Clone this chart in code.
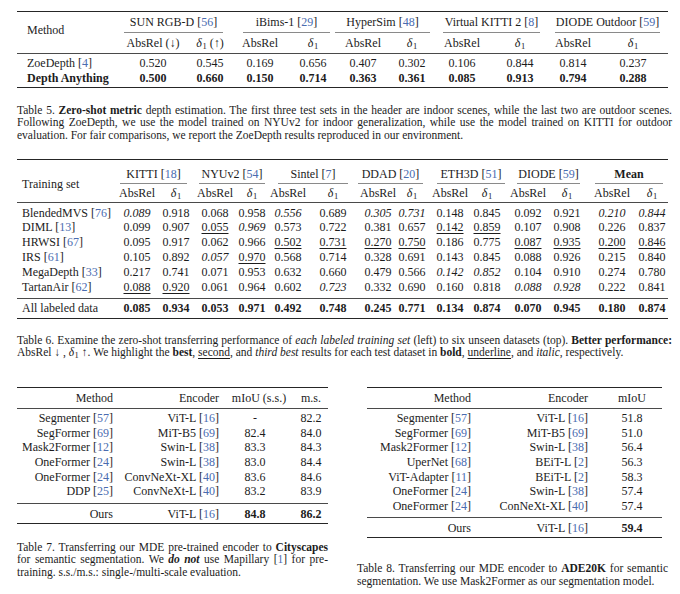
<!DOCTYPE html>
<html><head><meta charset="utf-8">
<script src="https://cdn.jsdelivr.net/npm/chart.js@4.4.1/dist/chart.umd.min.js"></script>
<style>
html,body{margin:0;padding:0;background:#fff;}
#page{position:relative;width:680px;height:594px;overflow:hidden;font-family:"Liberation Serif","Times New Roman",serif;color:#1c1c1c;}
.t{position:absolute;white-space:nowrap;font-size:12px;line-height:14px;}
.c{color:#4a6cb0;}
.rule{position:absolute;height:0;}
.cap{position:absolute;white-space:nowrap;font-size:11.5px;line-height:13px;}
.sub{font-size:8.5px;position:relative;top:2px;margin-left:0.5px;}
.u{text-decoration:underline;text-decoration-thickness:0.8px;text-underline-offset:2px;}
</style></head><body><div id="page"></div>
<script>
// ---------------- DATA ----------------
// Table 5
const t5Datasets = ["SUN RGB-D", "iBims-1", "HyperSim", "Virtual KITTI 2", "DIODE Outdoor"];
const t5DatasetRefs = [56, 29, 48, 8, 59];
const t5Methods = ["ZoeDepth", "Depth Anything"];
const t5MethodRefs = [4, null];
const t5ZoeDepth = [0.520, 0.545, 0.169, 0.656, 0.407, 0.302, 0.106, 0.844, 0.814, 0.237];
const t5DepthAnything = [0.500, 0.660, 0.150, 0.714, 0.363, 0.361, 0.085, 0.913, 0.794, 0.288];

// Table 6
const t6Datasets = ["KITTI", "NYUv2", "Sintel", "DDAD", "ETH3D", "DIODE", "Mean"];
const t6DatasetRefs = [18, 54, 7, 20, 51, 59, null];
const t6TrainSets = ["BlendedMVS", "DIML", "HRWSI", "IRS", "MegaDepth", "TartanAir", "All labeled data"];
const t6TrainRefs = [76, 13, 67, 61, 33, 62, null];
const t6BlendedMVS = [0.089, 0.918, 0.068, 0.958, 0.556, 0.689, 0.305, 0.731, 0.148, 0.845, 0.092, 0.921, 0.210, 0.844];
const t6DIML       = [0.099, 0.907, 0.055, 0.969, 0.573, 0.722, 0.381, 0.657, 0.142, 0.859, 0.107, 0.908, 0.226, 0.837];
const t6HRWSI      = [0.095, 0.917, 0.062, 0.966, 0.502, 0.731, 0.270, 0.750, 0.186, 0.775, 0.087, 0.935, 0.200, 0.846];
const t6IRS        = [0.105, 0.892, 0.057, 0.970, 0.568, 0.714, 0.328, 0.691, 0.143, 0.845, 0.088, 0.926, 0.215, 0.840];
const t6MegaDepth  = [0.217, 0.741, 0.071, 0.953, 0.632, 0.660, 0.479, 0.566, 0.142, 0.852, 0.104, 0.910, 0.274, 0.780];
const t6TartanAir  = [0.088, 0.920, 0.061, 0.964, 0.602, 0.723, 0.332, 0.690, 0.160, 0.818, 0.088, 0.928, 0.222, 0.841];
const t6AllData    = [0.085, 0.934, 0.053, 0.971, 0.492, 0.748, 0.245, 0.771, 0.134, 0.874, 0.070, 0.945, 0.180, 0.874];
// published rank marks: 1 = best, 2 = second, 3 = third best, 0 = none
const t6RankBlendedMVS = [3,0,0,0,3,0,3,3,0,0,0,0,3,3];
const t6RankDIML       = [0,0,2,3,0,0,0,0,2,2,0,0,0,0];
const t6RankHRWSI      = [0,0,0,0,2,2,2,2,0,0,2,2,2,2];
const t6RankIRS        = [0,0,3,2,0,0,0,0,0,0,0,0,0,0];
const t6RankMegaDepth  = [0,0,0,0,0,0,0,0,3,3,0,0,0,0];
const t6RankTartanAir  = [2,2,0,0,0,3,0,0,0,0,3,3,0,0];
const t6RankAllData    = [1,1,1,1,1,1,1,1,1,1,1,1,1,1];

// Table 7
const t7Methods = ["Segmenter", "SegFormer", "Mask2Former", "OneFormer", "OneFormer", "DDP", "Ours"];
const t7MethodRefs = [57, 69, 12, 24, 24, 25, null];
const t7Encoders = ["ViT-L", "MiT-B5", "Swin-L", "Swin-L", "ConvNeXt-XL", "ConvNeXt-L", "ViT-L"];
const t7EncoderRefs = [16, 69, 38, 38, 40, 40, 16];
const t7SingleScale = [null, 82.4, 83.3, 83.0, 83.6, 83.2, 84.8];
const t7MultiScale = [82.2, 84.0, 84.3, 84.4, 84.6, 83.9, 86.2];

// Table 8
const t8Methods = ["Segmenter", "SegFormer", "Mask2Former", "UperNet", "ViT-Adapter", "OneFormer", "OneFormer", "Ours"];
const t8MethodRefs = [57, 69, 12, 68, 11, 24, 24, null];
const t8Encoders = ["ViT-L", "MiT-B5", "Swin-L", "BEiT-L", "BEiT-L", "Swin-L", "ConNeXt-XL", "ViT-L"];
const t8EncoderRefs = [16, 69, 38, 2, 2, 38, 40, 16];
const t8mIoU = [51.8, 51.0, 56.4, 56.3, 58.3, 57.4, 57.4, 59.4];

// Captions (one entry per printed line)
const cap5 = [
  'Table 5. <b>Zero-shot metric</b> depth estimation. The first three test sets in the header are indoor scenes, while the last two are outdoor scenes.',
  'Following ZoeDepth, we use the model trained on NYUv2 for indoor generalization, while use the model trained on KITTI for outdoor',
  'evaluation. For fair comparisons, we report the ZoeDepth results reproduced in our environment.'
];
const cap6 = [
  'Table 6. Examine the zero-shot transferring performance of <i>each labeled training set</i> (left) to six unseen datasets (top). <b>Better performance:</b>',
  'AbsRel \u2193 , <i>\u03b4</i><span class="sub">1</span> \u2191. We highlight the <b>best</b>, <span class="u">second</span>, and <i>third best</i> results for each test dataset in <b>bold</b>, <span class="u">underline</span>, and <i>italic</i>, respectively.'
];
const cap7 = [
  'Table 7. Transferring our MDE pre-trained encoder to <b>Cityscapes</b>',
  'for semantic segmentation. We <b><i>do not</i></b> use Mapillary [<span class="c">1</span>] for pre-',
  'training. s.s./m.s.: single-/multi-scale evaluation.'
];
const cap8 = [
  'Table 8. Transferring our MDE encoder to <b>ADE20K</b> for semantic',
  'segmentation. We use Mask2Former as our segmentation model.'
];

// ---------------- RENDER ----------------
const page = document.getElementById('page');
const DARK = '#262626', MID = '#4a4a4a', LIGHT = '#8a8a8a';
function el(cls, html, style){ const d=document.createElement('div'); d.className=cls; d.innerHTML=html; Object.assign(d.style, style||{}); page.appendChild(d); return d; }
function txt(x, y, html, align, extra){
  const s = {top:(y-7.5)+'px'};
  if (align==='r') s.right=(680-x)+'px';
  else { s.left=x+'px'; if (align==='c') s.transform='translateX(-50%)'; }
  return el('t', html, Object.assign(s, extra||{}));
}
function rule(x1, x2, y, w, color){ el('rule','',{left:x1+'px',width:(x2-x1)+'px',top:(y-w/2)+'px',borderTop:w+'px solid '+color}); }
const cite = (name, ref) => ref==null ? name : name+' [<span class="c">'+ref+'</span>]';
const D1 = '<i>\u03b4</i><span class="sub">1</span>';
function caption(lines, x, w, y0, lh){
  lines.forEach((ln, i) => {
    const d = el('cap', ln, {left:x+'px', top:(y0+i*lh-6.5)+'px'});
    if (i < lines.length-1){
      const nat = d.getBoundingClientRect().width;
      const nsp = (d.textContent.match(/ /g)||[]).length;
      if (nsp>0) d.style.wordSpacing = ((w-nat)/nsp)+'px';
    }
  });
}

// ---- Table 5 ----
(function(){
  const L=17, R=668;
  const cols=[153,210,260,313,363,412,462,520,573,633];
  const groups=[[124,223],[243,330],[335,430],[443,540],[555,660]];
  rule(L,R,12,1.3,DARK);
  txt(27,30,'Method','l');
  groups.forEach((g,i)=>{
    txt((g[0]+g[1])/2,22,cite(t5Datasets[i],t5DatasetRefs[i]),'c');
    rule(g[0],g[1],32,0.8,LIGHT);
    txt(cols[2*i],43, i===0?'AbsRel (\u2193)':'AbsRel','c');
    txt(cols[2*i+1],43, i===0?D1+' (\u2191)':D1,'c');
  });
  rule(L,R,53,0.8,MID);
  const rows=[t5ZoeDepth,t5DepthAnything];
  rows.forEach((r,ri)=>{
    const y=63+ri*15;
    const st = ri===1?{fontWeight:'bold'}:{};
    txt(27,y,cite(t5Methods[ri],t5MethodRefs[ri]),'l',st);
    r.forEach((v,ci)=>txt(cols[ci],y,v.toFixed(3),'c',st));
  });
  rule(L,R,88,1.3,DARK);
  caption(cap5,17,655,110,12.5);
})();

// ---- Table 6 ----
(function(){
  const L=17, R=668;
  const cols=[137,176,215,252,288,333,378,412,450,487,528,567,612,652];
  const groups=[[120,187],[199,265],[278,348],[358,423],[437,505],[517,580],[595,663]];
  rule(L,R,160,1.3,DARK);
  txt(22,184,'Training set','l');
  groups.forEach((g,i)=>{
    const lab = cite(t6Datasets[i],t6DatasetRefs[i]);
    txt((g[0]+g[1])/2,174, i===6?'<b>'+lab+'</b>':lab,'c');
    rule(g[0],g[1],183,0.8,LIGHT);
    txt(cols[2*i],193,'AbsRel','c');
    txt(cols[2*i+1],193,D1,'c');
  });
  rule(L,R,202,0.8,MID);
  const vals=[t6BlendedMVS,t6DIML,t6HRWSI,t6IRS,t6MegaDepth,t6TartanAir,t6AllData];
  const ranks=[t6RankBlendedMVS,t6RankDIML,t6RankHRWSI,t6RankIRS,t6RankMegaDepth,t6RankTartanAir,t6RankAllData];
  const ys=[213,227.5,242,257,272,287,308.5];
  vals.forEach((r,ri)=>{
    const y=ys[ri];
    txt(22,y,cite(t6TrainSets[ri],t6TrainRefs[ri]),'l');
    r.forEach((v,ci)=>{
      let s=v.toFixed(3); const k=ranks[ri][ci];
      if(k===1) s='<b>'+s+'</b>'; else if(k===2) s='<span class="u">'+s+'</span>'; else if(k===3) s='<i>'+s+'</i>';
      txt(cols[ci],y,s,'c');
    });
  });
  rule(L,R,298,0.8,MID);
  rule(L,R,318.5,1.3,DARK);
  caption(cap6,17,655,340,12.5);
})();

// ---- Table 7 ----
(function(){
  const L=17, R=328;
  rule(L,R,388,1.3,DARK);
  txt(113,398,'Method','r'); txt(219,398,'Encoder','r');
  txt(259,398,'mIoU (s.s.)','c'); txt(311,398,'m.s.','c');
  rule(L,R,408,0.8,MID);
  const ys=[418,433,447,462,477,491,514];
  t7Methods.forEach((m,i)=>{
    const y=ys[i]; const last=i===t7Methods.length-1;
    txt(113,y,cite(m,t7MethodRefs[i]),'r');
    txt(219,y,cite(t7Encoders[i],t7EncoderRefs[i]),'r');
    const ss = t7SingleScale[i]==null?'-':t7SingleScale[i].toFixed(1);
    const ms = t7MultiScale[i].toFixed(1);
    txt(255,y,last?'<b>'+ss+'</b>':ss,'c');
    txt(311,y,last?'<b>'+ms+'</b>':ms,'c');
  });
  rule(L,R,503,0.8,MID);
  rule(L,R,524,1.3,DARK);
  caption(cap7,17,311,547,12.5);
})();

// ---- Table 8 ----
(function(){
  const L=367, R=662;
  rule(L,R,388,1.3,DARK);
  txt(471,398,'Method','r'); txt(588,398,'Encoder','r'); txt(632,398,'mIoU','c');
  rule(L,R,408,0.8,MID);
  const ys=[418,433,447,462,477,491,506,528];
  t8Methods.forEach((m,i)=>{
    const y=ys[i]; const last=i===t8Methods.length-1;
    txt(471,y,cite(m,t8MethodRefs[i]),'r');
    txt(588,y,cite(t8Encoders[i],t8EncoderRefs[i]),'r');
    const v=t8mIoU[i].toFixed(1);
    txt(632,y,last?'<b>'+v+'</b>':v,'c');
  });
  rule(L,R,517,0.8,MID);
  rule(L,R,538,1.3,DARK);
  caption(cap8,357,311,568,13.5);
})();
</script>
</body></html>
